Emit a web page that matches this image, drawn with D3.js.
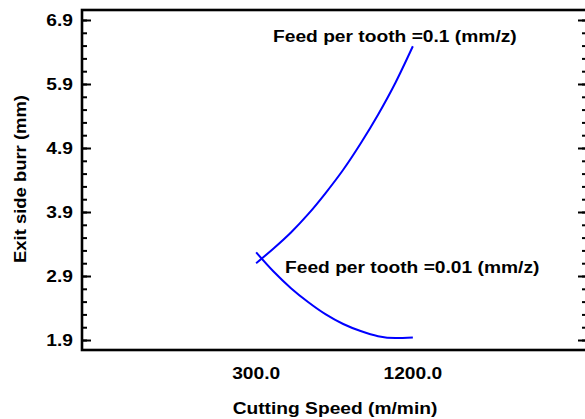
<!DOCTYPE html>
<html>
<head>
<meta charset="utf-8">
<script src="https://cdn.jsdelivr.net/npm/d3@7"></script>
<style>
  html, body { margin: 0; padding: 0; background: #fff; }
  svg { display: block; }
  text { font-family: "Liberation Sans", Arial, sans-serif; font-weight: bold; fill: #000; }
</style>
</head>
<body>
<svg id="chart" width="585" height="419"></svg>
<script>
// ---- data ----
const xTickValues = [300, 1200];
const xTickLabels = ["300.0", "1200.0"];
const yTickValues = [1.9, 2.9, 3.9, 4.9, 5.9, 6.9];
const yTickLabels = ["1.9", "2.9", "3.9", "4.9", "5.9", "6.9"];

const speed = [300, 400, 500, 600, 700, 800, 900, 1000, 1100, 1200];
const burrHigh = [3.10, 3.33, 3.58, 3.87, 4.20, 4.56, 4.97, 5.42, 5.92, 6.49];
const burrLow  = [3.27, 2.97, 2.71, 2.49, 2.30, 2.15, 2.04, 1.96, 1.93, 1.94];

const seriesLabels = ["Feed per tooth =0.1 (mm/z)", "Feed per tooth =0.01 (mm/z)"];
const xTitle = "Cutting Speed (m/min)";
const yTitle = "Exit side burr (mm)";

// ---- layout ----
const L = 82, R = 587, T = 10, B = 350;
const FS = 17, SX = 1.13;

const svg = d3.select("#chart");
const x = d3.scaleLinear().domain([-700, 2200]).range([L, R]);
const y = d3.scaleLinear().domain([1.744, 7.056]).range([B, T]);

const minorTicks = d3.range(0, 26).map(i => +(1.9 + i * 0.2).toFixed(2)).filter(v => v <= 7.0);

// left axis ticks (inward)
const gl = svg.append("g").attr("transform", `translate(${L},0)`);
gl.call(d3.axisLeft(y).tickValues(minorTicks).tickSize(-5).tickFormat(""));
gl.append("g").call(d3.axisLeft(y).tickValues(yTickValues).tickSize(-9).tickFormat(""));
// right axis ticks (inward)
const gr = svg.append("g").attr("transform", `translate(${R},0)`);
gr.call(d3.axisRight(y).tickValues(minorTicks).tickSize(-5).tickFormat(""));
gr.append("g").call(d3.axisRight(y).tickValues(yTickValues).tickSize(-9).tickFormat(""));
svg.selectAll(".domain").remove();
svg.selectAll(".tick line").attr("stroke", "#000").attr("stroke-width", 2);

// frame
svg.append("rect").attr("x", L).attr("y", T).attr("width", R - L).attr("height", B - T)
  .attr("fill", "none").attr("stroke", "#000").attr("stroke-width", 2.6);

// y tick labels
svg.selectAll(".ylab").data(yTickValues).enter().append("text")
  .attr("class", "ylab")
  .attr("text-anchor", "end")
  .attr("font-size", FS)
  .attr("dy", "0.36em")
  .attr("transform", d => `translate(73,${y(d)}) scale(${SX},1)`)
  .text((d, i) => yTickLabels[i]);

// x tick labels
svg.selectAll(".xlab").data(xTickValues).enter().append("text")
  .attr("class", "xlab")
  .attr("text-anchor", "middle")
  .attr("font-size", FS)
  .attr("transform", d => `translate(${x(d)},379) scale(${SX},1)`)
  .text((d, i) => xTickLabels[i]);

// axis titles
svg.append("text").attr("text-anchor", "middle").attr("font-size", FS)
  .attr("transform", `translate(335,414) scale(${SX},1)`).text(xTitle);
svg.append("text").attr("text-anchor", "middle").attr("font-size", FS)
  .attr("transform", `translate(25.5,179) rotate(-90) scale(${SX * 0.96},1)`).text(yTitle);

// curves
const line = d3.line().x(d => x(d[0])).y(d => y(d[1])).curve(d3.curveMonotoneX);
const dataHigh = speed.map((s, i) => [s, burrHigh[i]]);
const dataLow = speed.map((s, i) => [s, burrLow[i]]);
[dataHigh, dataLow].forEach(dd => {
  svg.append("path").datum(dd).attr("d", line)
    .attr("fill", "none").attr("stroke", "#0000ff").attr("stroke-width", 2);
});

// series labels
svg.append("text").attr("font-size", FS)
  .attr("transform", `translate(273,42) scale(${SX},1)`).text(seriesLabels[0]);
svg.append("text").attr("font-size", FS)
  .attr("transform", `translate(285,273) scale(${SX},1)`).text(seriesLabels[1]);
</script>
</body>
</html>
